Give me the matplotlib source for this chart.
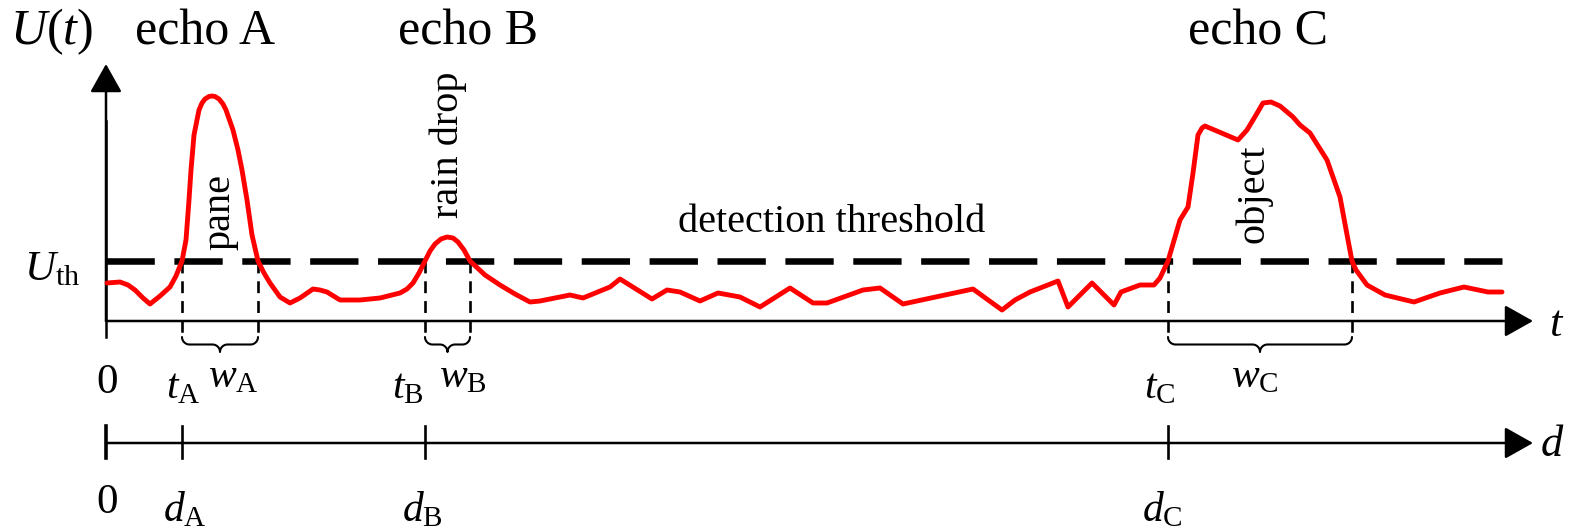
import numpy as np
import matplotlib
matplotlib.use("Agg")
import matplotlib.pyplot as plt

plt.rcParams["font.family"] = ["Liberation Serif", "DejaVu Serif"]
plt.rcParams["mathtext.fontset"] = "custom"
plt.rcParams["mathtext.rm"] = "Liberation Serif"
plt.rcParams["mathtext.it"] = "Liberation Serif:italic"

# received signal U(t) (t in samples, U in mV)
t_sig = [1, 14, 22, 29, 37, 44, 54, 64, 70, 76, 80, 83, 85, 88, 93, 96, 99, 103, 106, 109, 113, 117,
         120, 127, 132, 136, 141, 146, 152, 158, 164, 174, 184, 194, 207, 214, 221, 234, 254, 274,
         294, 301, 307, 313, 319, 324, 329, 335, 341, 347, 352, 358, 364, 379, 394, 409, 424, 434,
         464, 477, 504, 514, 546, 561, 574, 594, 612, 634, 654, 684, 707, 721, 757, 774, 797, 867,
         896, 909, 924, 952, 962, 986, 1008, 1015, 1034, 1048, 1054, 1062, 1074, 1082, 1087, 1092,
         1096, 1099, 1132, 1141, 1150, 1157, 1165, 1174, 1187, 1194, 1204, 1221, 1234, 1242, 1246,
         1250, 1261, 1279, 1308, 1334, 1358, 1382, 1396]
U_sig = [38, 39, 36, 31, 23, 17, 25, 34, 45, 60, 81, 121, 151, 186, 211, 218, 222, 224.5, 225,
         224.5, 222, 217, 211, 191, 171, 151, 121, 86, 60, 48, 38, 24, 18, 23, 32, 31, 29, 21, 21,
         23, 28, 32, 38, 48, 60, 70, 77, 82, 84, 83, 79, 71, 60, 46, 36, 27, 19, 20, 26, 23, 34,
         42, 22, 31, 29, 20, 28, 24, 14, 33, 18, 18, 31, 33, 17, 32, 11, 21, 29, 40, 14, 38, 16,
         29, 36, 36, 43, 60, 101, 114, 148, 186, 193, 195, 181, 191, 206, 218, 219, 215, 204,
         196, 188, 161, 124, 81, 60, 51, 36, 26, 19, 28, 34, 29, 29]

U_th = 60
t_end = 1396

# echoes: name, start time, end time (threshold crossings), what caused it
echo_names = ["A", "B", "C"]
echo_start = [76, 319, 1062]
echo_end = [152, 364, 1246]
echo_cause = ["pane", "rain drop", "object"]

fig = plt.figure(figsize=(15.75, 5.27), dpi=100)
ax = fig.add_axes([0, 0, 1, 1])
ax.set_xlim(-106, 1469)
ax.set_ylim(-206, 321)
ax.axis("off")

big = 36
mid = 29

t_axis_len = 1427
d_level = -122


def arrow(x0, y0, x1, y1):
    ax.annotate("", xy=(x1, y1), xytext=(x0, y0),
                arrowprops=dict(arrowstyle="-|>,head_length=0.8,head_width=0.45",
                                mutation_scale=22, lw=1.8, color="black",
                                shrinkA=0, shrinkB=0))


def brace(x0, x1, y_top, depth):
    # curly brace opening upwards between x0 and x1
    r = depth / 2.0
    xm = (x0 + x1) / 2.0
    a = np.linspace(0, np.pi / 2, 15)
    left_end = np.c_[x0 + r - r * np.cos(a), y_top - r * np.sin(a)]
    left_mid = np.c_[xm - r + r * np.sin(a), y_top - r - r * (1 - np.cos(a))]
    right_mid = np.c_[xm + r - r * np.sin(a[::-1]), y_top - r - r * (1 - np.cos(a[::-1]))]
    right_end = np.c_[x1 - r + r * np.cos(a[::-1]), y_top - r * np.sin(a[::-1])]
    pts = np.vstack([left_end, left_mid, right_mid, right_end])
    ax.plot(pts[:, 0], pts[:, 1], color="black", lw=1.5, solid_capstyle="round")


# time axis and amplitude axis
ax.plot([0, 0], [-16, 200], color="black", lw=1.8)
arrow(0, 0, 0, 257)
arrow(0, 0, t_axis_len, 0)

# distance axis
arrow(0, d_level, t_axis_len, d_level)
ax.plot([0, 0], [d_level + 17, d_level - 15], color="black", lw=2.6)

# detection threshold
ax.plot([0, t_end], [U_th, U_th], color="black", lw=4.7, dashes=(7.4, 3.0))

# echo signal
ax.plot(t_sig, U_sig, color="#ff0000", lw=3.5, solid_joinstyle="round",
        solid_capstyle="round", zorder=5)

for name, t0, t1, cause in zip(echo_names, echo_start, echo_end, echo_cause):
    for tt in (t0, t1):
        ax.plot([tt, tt], [U_th, -16], color="black", lw=1.9, dashes=(4.5, 3.0))
    brace(t0, t1, -16, 15)
    ax.plot([t0, t0], [d_level + 17, d_level - 15], color="black", lw=1.9)

# labels
ax.text(-54, 289, r"$U(t)$", fontsize=big, ha="center", va="center")
ax.text(-54, 51, r"$U_{\mathrm{th}}$", fontsize=mid + 2, ha="center", va="center")
ax.text(726, 99, "detection threshold", fontsize=mid, ha="center", va="center")
ax.text(1451, -4, r"$t$", fontsize=mid + 3, ha="center", va="center")
ax.text(1446, -124, r"$d$", fontsize=mid + 3, ha="center", va="center")
ax.text(1, -62, "0", fontsize=mid + 2, ha="center", va="center")
ax.text(1, -182, "0", fontsize=mid + 2, ha="center", va="center")

echo_label_x = [99, 362, 1152]
cause_pos = [(114, 109), (342, 176), (1148, 127)]
t_label_x = [77, 302, 1054]
w_label_x = [127, 357, 1149]
d_label_x = [79, 316, 1056]
for i, name in enumerate(echo_names):
    ax.text(echo_label_x[i], 289, "echo " + name, fontsize=big, ha="center", va="center")
    cx, cy = cause_pos[i]
    ax.text(cx, cy, echo_cause[i], fontsize=mid, rotation=90, ha="center", va="center")
    ax.text(t_label_x[i], -67, r"$t_{\mathrm{%s}}$" % name, fontsize=mid + 1, ha="center", va="center")
    ax.text(w_label_x[i], -56, r"$w_{\mathrm{%s}}$" % name, fontsize=mid + 1, ha="center", va="center")
    ax.text(d_label_x[i], -189, r"$d_{\mathrm{%s}}$" % name, fontsize=mid + 1, ha="center", va="center")

fig.savefig("out.png", dpi=100, facecolor="white")
